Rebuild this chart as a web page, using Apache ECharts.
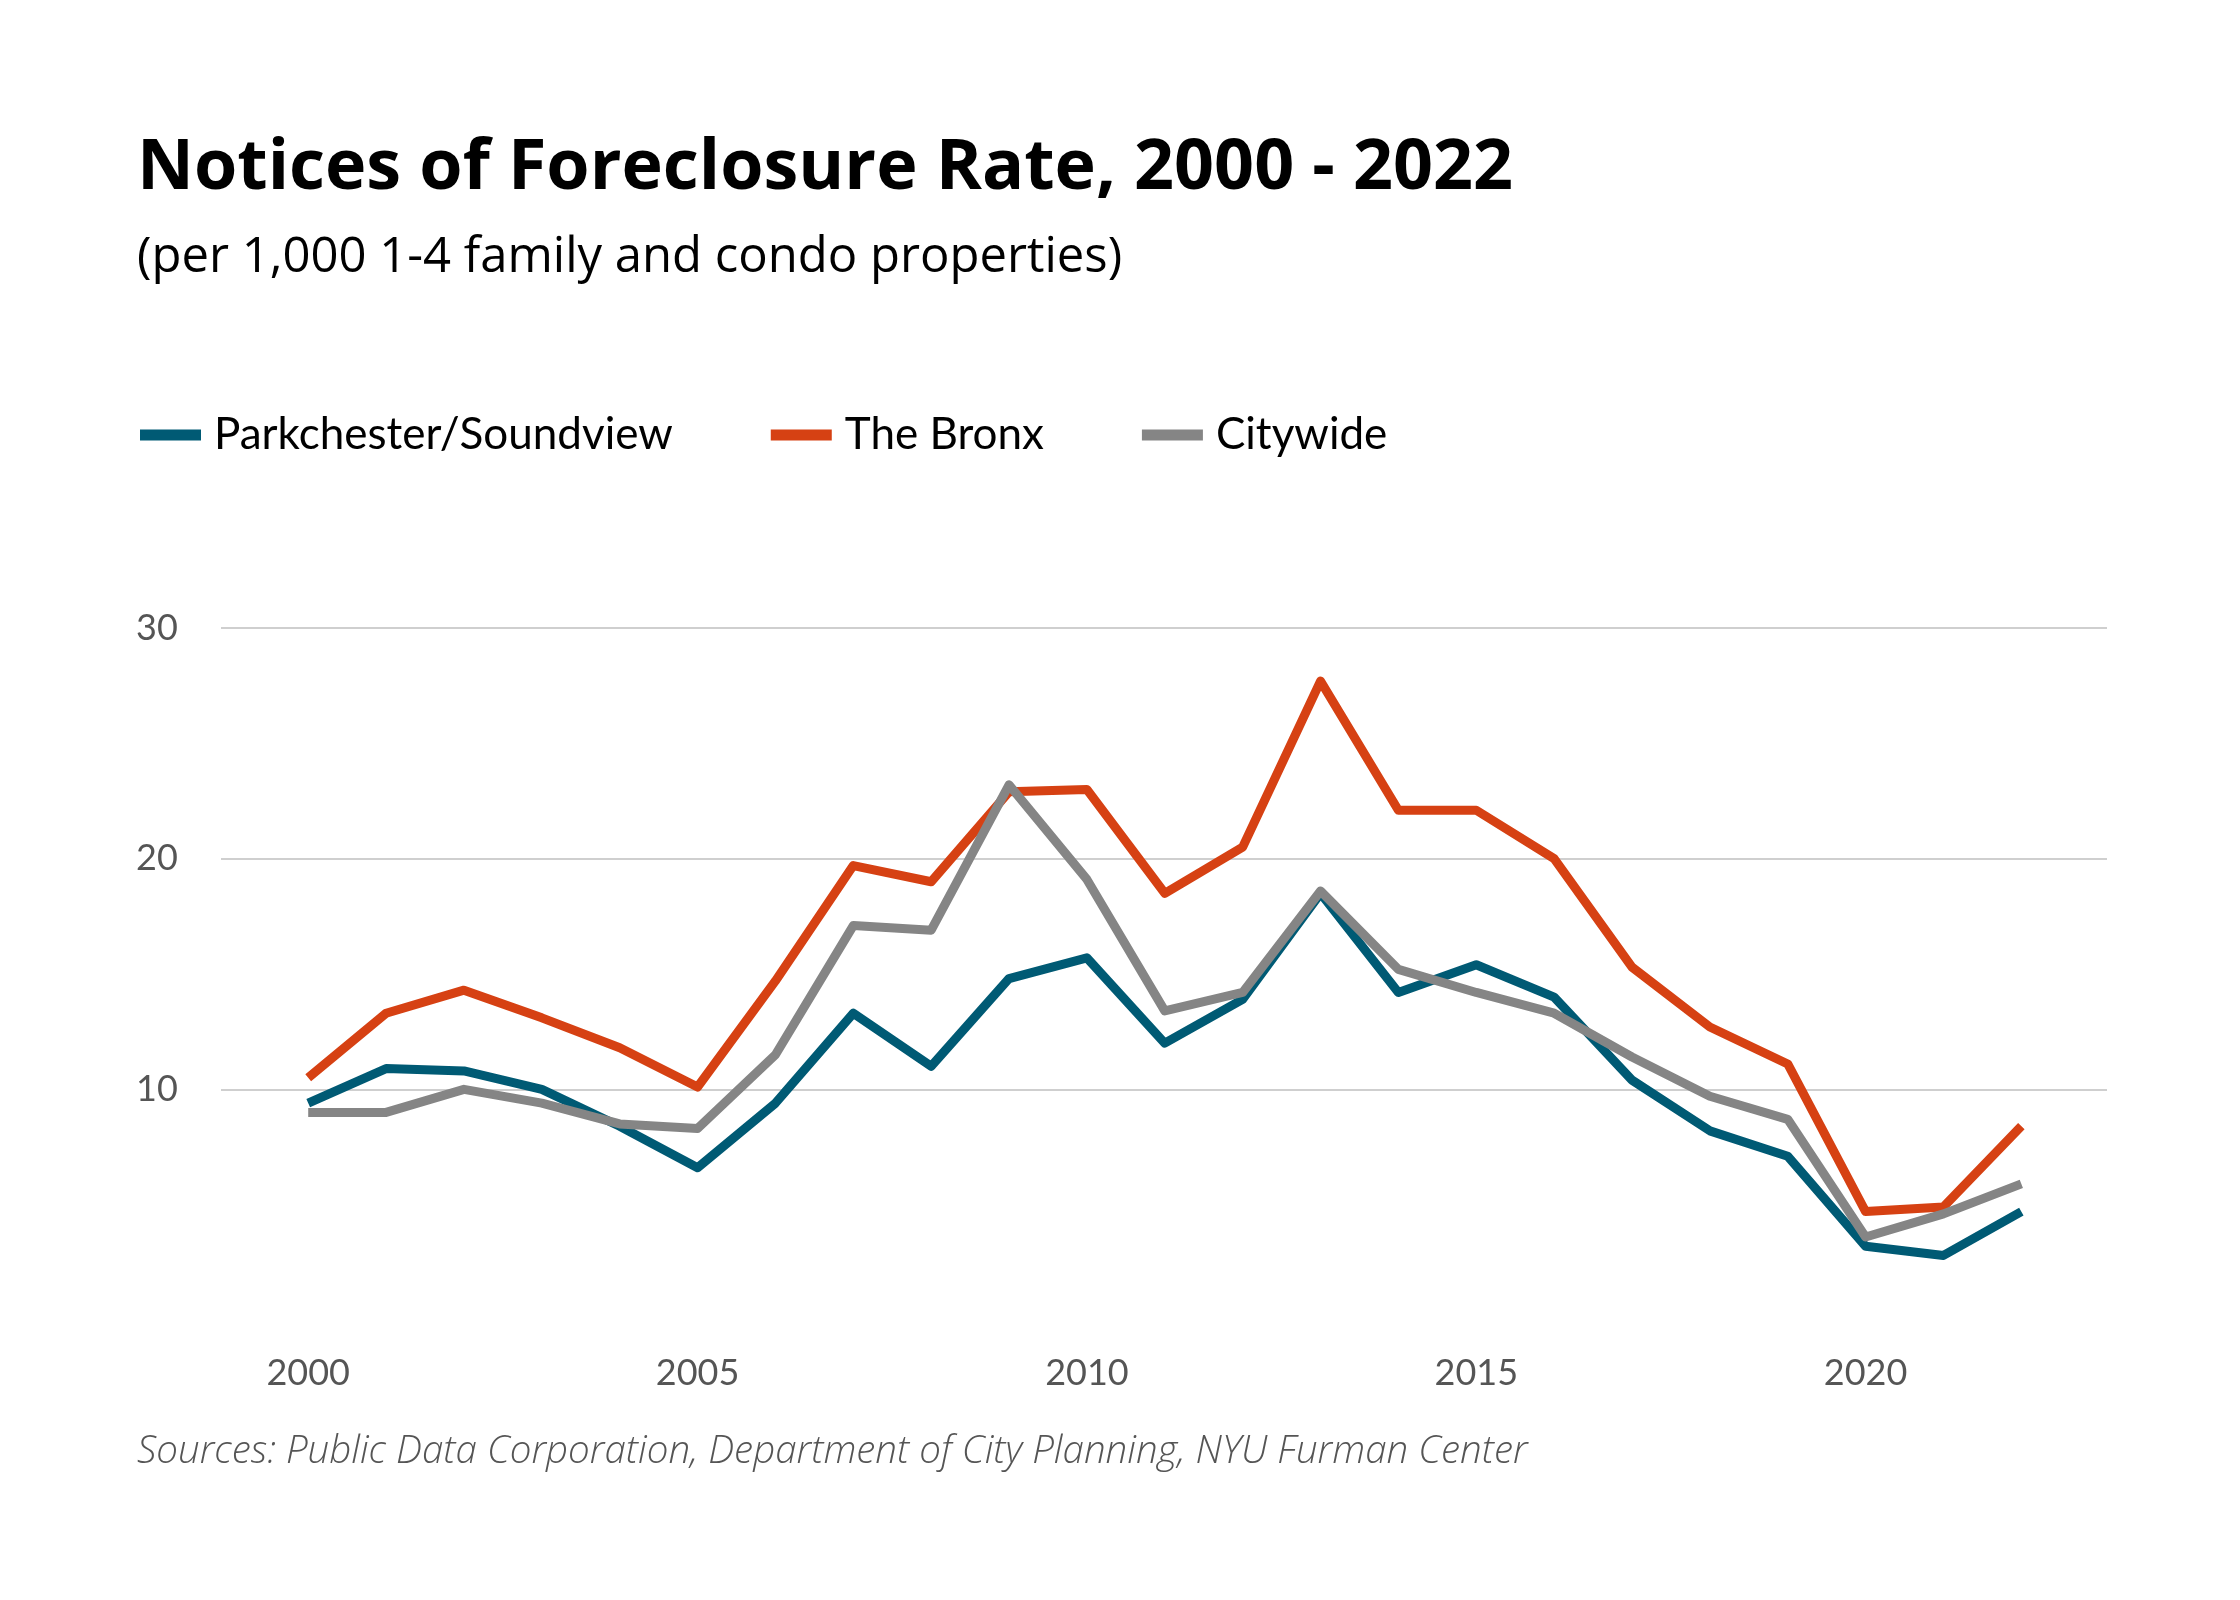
<!DOCTYPE html>
<html>
<head>
<meta charset="utf-8">
<title>Notices of Foreclosure Rate, 2000 - 2022</title>
<script src="https://cdn.jsdelivr.net/npm/echarts@6/dist/echarts.min.js"></script>
<style>
  html, body { margin: 0; padding: 0; background: #fff; }
  #chart { width: 2240px; height: 1600px; }
</style>
</head>
<body>
<div id="chart"></div>
<script>
var years = [2000, 2001, 2002, 2003, 2004, 2005, 2006, 2007, 2008, 2009, 2010, 2011,
             2012, 2013, 2014, 2015, 2016, 2017, 2018, 2019, 2020, 2021, 2022];
// Parkchester/Soundview
var parkchester = [9.4, 10.9, 10.8, 10.0, 8.4, 6.6, 9.4, 13.3, 11.0, 14.8, 15.7, 12.0,
                   13.9, 18.5, 14.2, 15.4, 14.0, 10.4, 8.2, 7.1, 3.2, 2.8, 4.7];
// The Bronx
var bronx = [10.5, 13.3, 14.3, 13.1, 11.8, 10.1, 14.7, 19.7, 19.0, 22.9, 23.0, 18.5,
             20.5, 27.7, 22.1, 22.1, 20.0, 15.3, 12.7, 11.1, 4.7, 4.9, 8.4];
// Citywide
var citywide = [9.0, 9.0, 10.0, 9.4, 8.5, 8.3, 11.5, 17.1, 16.9, 23.2, 19.1, 13.4,
                14.2, 18.6, 15.2, 14.2, 13.3, 11.4, 9.7, 8.7, 3.6, 4.6, 5.9];
var yearTicks = [2000, 2005, 2010, 2015, 2020];

var seriesNames = ['Parkchester/Soundview', 'The Bronx', 'Citywide'];
var seriesColors = ['#005a74', '#d64113', '#858585'];

function pairs(vals){
    return years.map(function(y, i){ return [y, vals[i]]; });
}

var myChart = echarts.init(document.getElementById('chart'));

var mkSeries = function(name, vals, color){
    return {
        name: name,
        type: 'line',
        data: pairs(vals),
        showSymbol: false,
        symbol: 'none',
        lineStyle: { color: color, width: 9, join: 'round', cap: 'butt' },
        itemStyle: { color: color },
        emphasis: { disabled: true }
    };
};

var option = {
    animation: false,
    backgroundColor: '#ffffff',
    textStyle: { fontFamily: 'Lato' },
    title: [
        {
            text: 'Notices of Foreclosure Rate, 2000 - 2022',
            left: 132, top: 129,
            textStyle: { fontFamily: 'Open Sans', fontWeight: 'bold', fontSize: 70, color: '#000' }
        },
        {
            text: '(per 1,000 1-4 family and condo properties)',
            left: 132, top: 229,
            textStyle: { fontFamily: 'Open Sans', fontWeight: 'normal', fontSize: 49, color: '#000' }
        },
        {
            text: 'Sources: Public Data Corporation, Department of City Planning, NYU Furman Center',
            left: 132, top: 1428,
            textStyle: { fontFamily: 'Open Sans', fontStyle: 'italic', fontWeight: 300, fontSize: 38.5, color: '#555' }
        }
    ],
    legend: {
        data: seriesNames,
        left: 140, top: 410,
        padding: 0,
        icon: 'rect',
        itemWidth: 61, itemHeight: 11,
        itemGap: 98,
        textStyle: { fontFamily: 'Lato', fontSize: 44, color: '#000', lineHeight: 50, padding: [0, 0, 0, 8] },
        selectedMode: false
    },
    grid: { left: 221, right: 133, top: 628, bottom: 280, containLabel: false },
    xAxis: {
        type: 'value',
        min: 1998.88,
        max: 2023.1,
        axisLine: { show: false },
        axisTick: { show: false },
        splitLine: { show: false },
        axisLabel: {
            customValues: yearTicks,
            formatter: function(v){ return String(v); },
            margin: 35,
            fontSize: 36,
            color: '#555'
        }
    },
    yAxis: {
        type: 'value',
        min: 0, max: 30, interval: 10,
        axisLine: { show: false },
        axisTick: { show: false },
        axisLabel: {
            showMinLabel: false,
            align: 'left',
            margin: 85,
            fontSize: 36,
            color: '#555'
        },
        splitLine: {
            show: true,
            showMinLine: false,
            lineStyle: { color: '#cfcfcf', width: 2 }
        }
    },
    series: [
        mkSeries(seriesNames[0], parkchester, seriesColors[0]),
        mkSeries(seriesNames[1], bronx, seriesColors[1]),
        mkSeries(seriesNames[2], citywide, seriesColors[2])
    ]
};

myChart.setOption(option);
</script>
</body>
</html>
